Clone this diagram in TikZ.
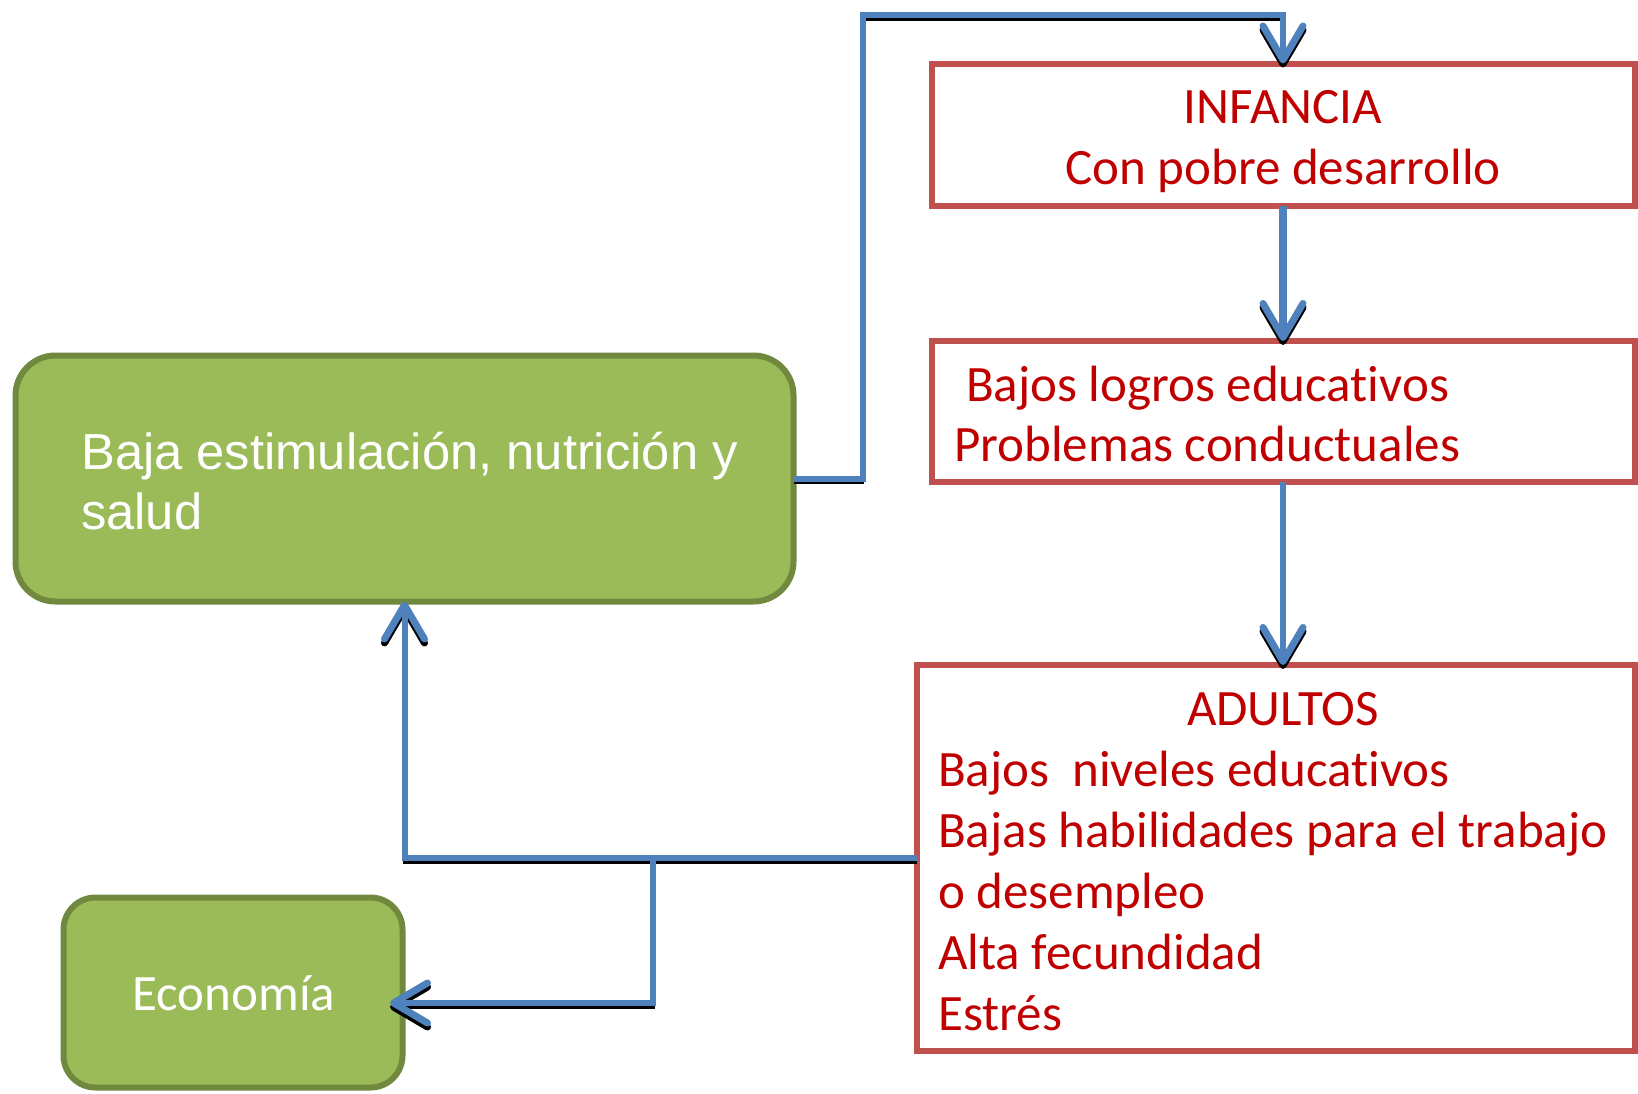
\documentclass[tikz,border=0pt]{standalone}
\usepackage{fontspec}
\setmainfont{Carlito}[Ligatures=NoCommon]
\newfontfamily\arialf{Liberation Sans}
\usetikzlibrary{arrows.meta}
\definecolor{redb}{HTML}{C0504D}
\definecolor{redt}{HTML}{C00000}
\definecolor{grf}{HTML}{9BBB59}
\definecolor{grd}{HTML}{71893F}
\definecolor{blu}{HTML}{4F81BD}
\begin{document}
\begin{tikzpicture}[x=1pt,y=-1pt,
  redbox/.style={draw=redb,line width=6pt,fill=white,inner sep=0pt,outer sep=0pt},
  grbox/.style={draw=grd,line width=6pt,fill=grf,inner sep=0pt,outer sep=0pt,rounded corners=#1},
  rtxt/.style={text=redt,font=\fontsize{51}{61}\selectfont,inner sep=0pt,anchor=base west},
  wtxt/.style={text=white,font=\arialf\fontsize{50.7}{60}\selectfont,inner sep=0pt,anchor=base west},
  conn/.style={draw=blu,line width=6pt,
    -{Straight Barb[length=34pt,width=40pt,line width=7pt,round]},
    preaction={draw=black,line width=3.5pt,transform canvas={yshift=-4pt}}}
]
\fill[white] (0,0) rectangle (1638,1093);
\useasboundingbox (0,0) rectangle (1638,1093);

% boxes
\node[redbox,minimum width=703pt,minimum height=142pt] (inf) at (1283,134.5) {};
\node[redbox,minimum width=703pt,minimum height=141pt] (edu) at (1283,411.5) {};
\node[redbox,minimum width=718pt,minimum height=386pt] (ad) at (1275.5,858) {};
\node[grbox=40pt,minimum width=778pt,minimum height=246pt] (g1) at (404.5,478.5) {};
\node[grbox=32pt,minimum width=339pt,minimum height=190pt] (eco) at (233,992.5) {};

% texts
\node[rtxt,anchor=base] (t1) at (1283,123) {INFANCIA};
\node[rtxt,anchor=base] (t2) at (1283,184) {Con pobre desarrollo};
\node[rtxt] (t3) at (966,401) {Bajos logros educativos};
\node[rtxt] (t4) at (954,461) {Problemas conductuales};
\node[rtxt,anchor=base] (t5) at (1283,725) {ADULTOS};
\node[rtxt] (t6) at (938,786) {Bajos\ \ niveles educativos};
\node[rtxt] (t7) at (938,847) {Bajas habilidades para el trabajo};
\node[rtxt] (t8) at (938,908) {o desempleo};
\node[rtxt] (t9) at (938,969) {Alta fecundidad};
\node[rtxt] (t10) at (938,1030) {Estrés};
\node[wtxt] (t11) at (81,469) {Baja estimulación, nutrición y};
\node[wtxt] (t12) at (81,529) {salud};
\node[rtxt,anchor=base,text=white] (t13) at (234,1010) {Economía};

% connectors
\coordinate (c1) at (862.5,15);
\coordinate (br) at (653,860);
\coordinate (ecoin) at (390,1003);
\draw[conn] (g1.east) -| (c1) -| (inf.north);
\draw[conn,line width=8pt] (inf.south) -- (edu.north);
\draw[conn] (edu.south) -- (edu.south |- ad.north);
\draw[conn] (ad.west) -| (g1.south);
\draw[conn] (br) |- (ecoin);
\end{tikzpicture}
\end{document}
